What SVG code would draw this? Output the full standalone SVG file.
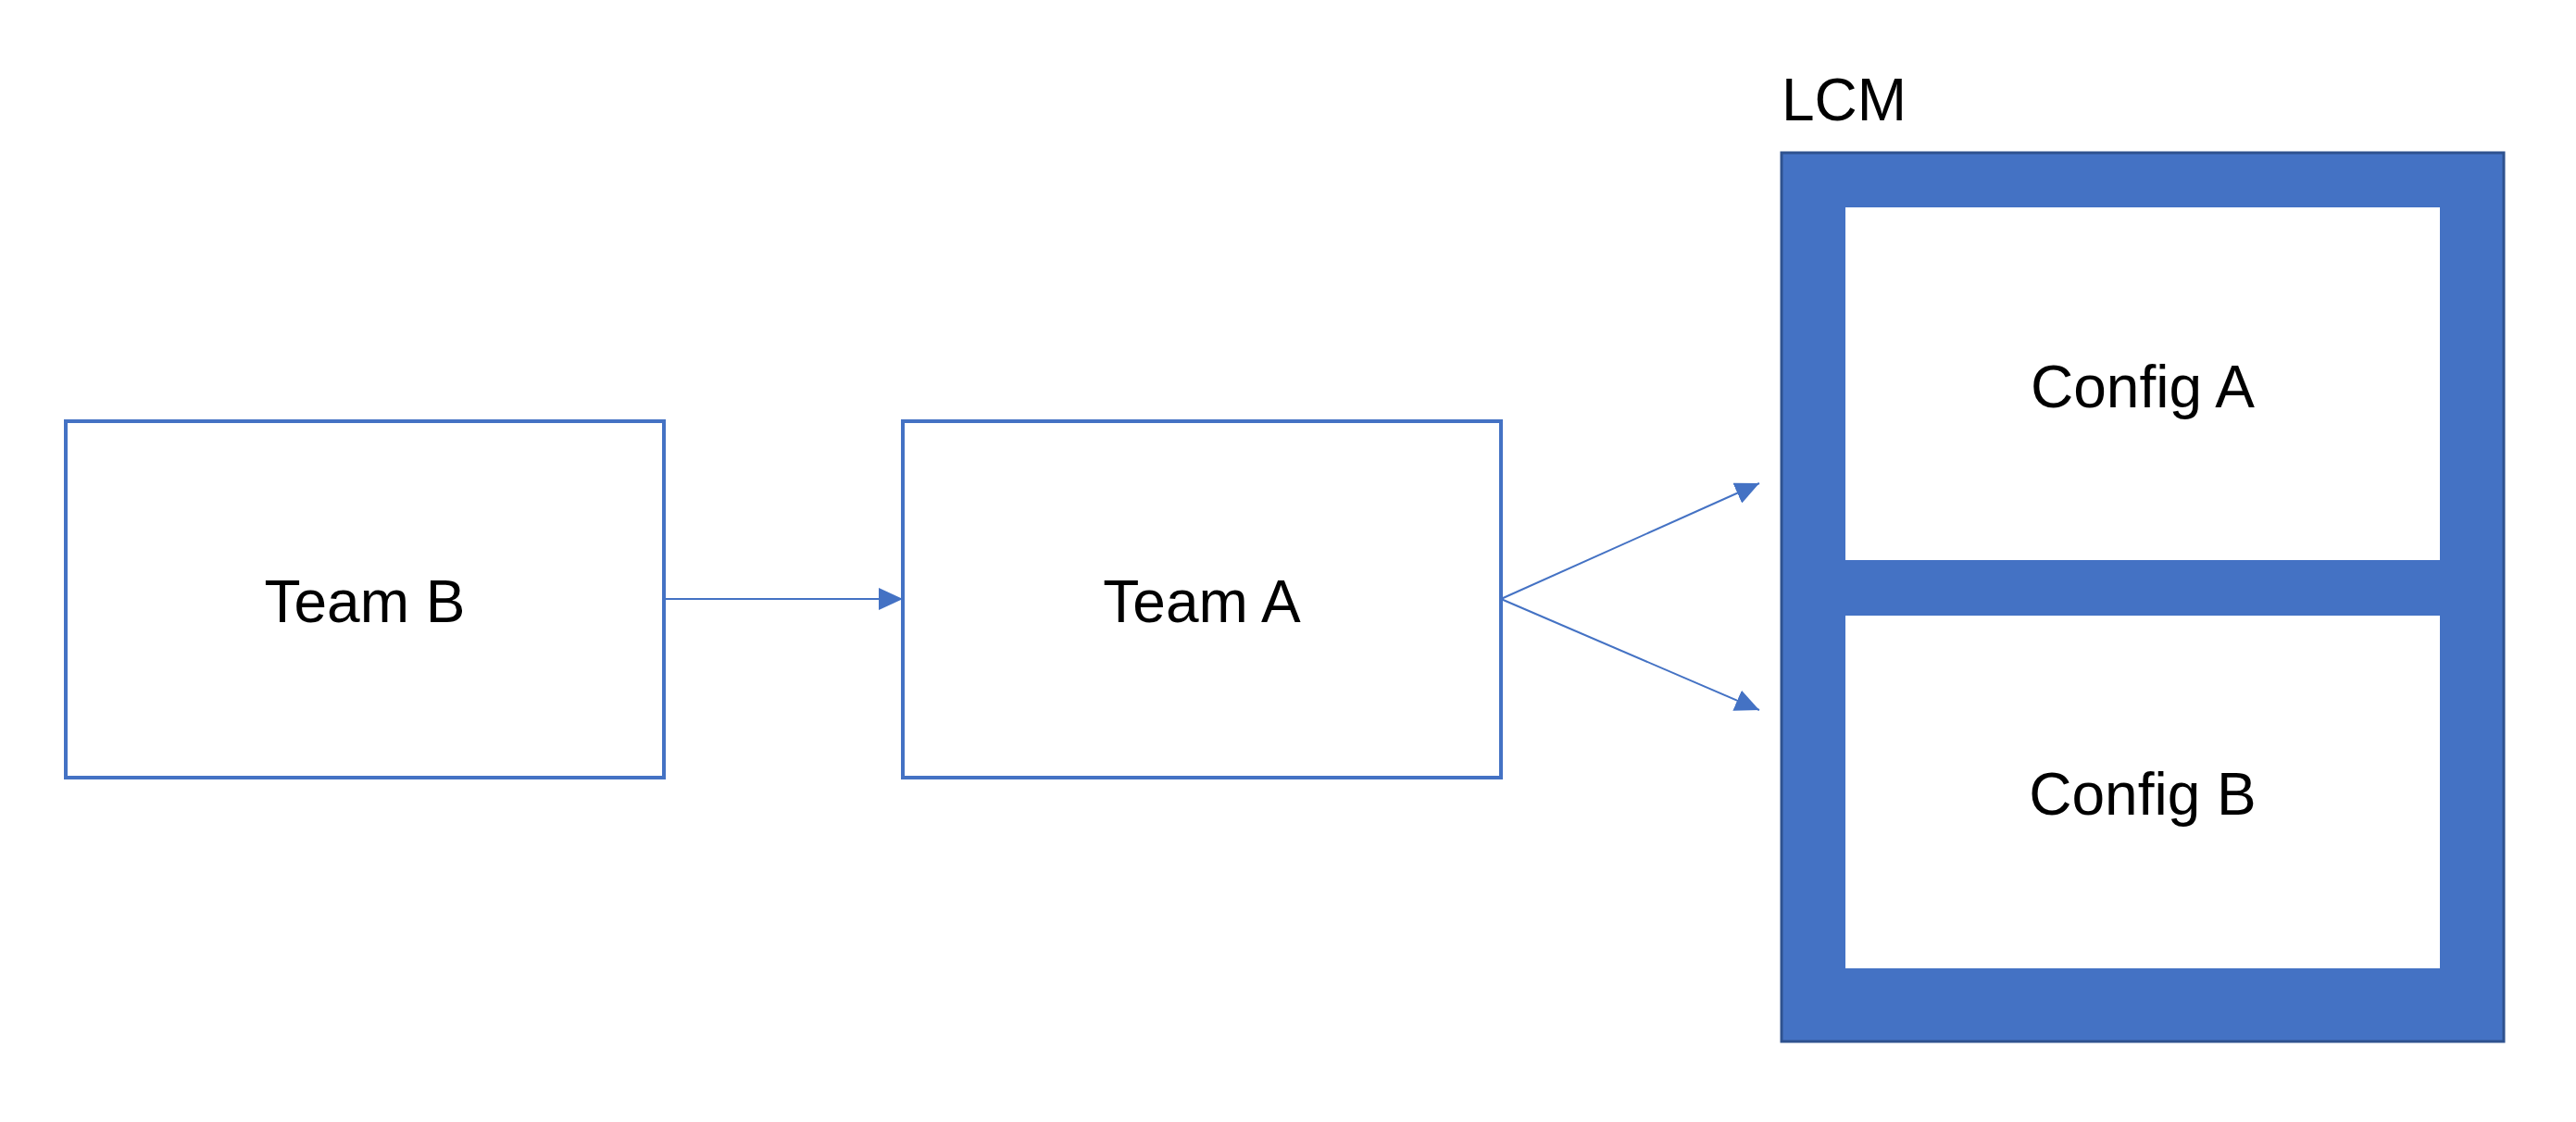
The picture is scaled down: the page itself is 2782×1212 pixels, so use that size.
<svg xmlns="http://www.w3.org/2000/svg" width="2782" height="1212" viewBox="0 0 2782 1212">
<style>
.box{fill:#FFFFFF;stroke:#4472C4;stroke-width:4}
.lbl{font-family:"Liberation Sans",Arial,sans-serif;font-size:64px;fill:#000000;text-anchor:middle}
.conn{fill:none;stroke:#4472C4;stroke-width:2}
</style>
<defs>
<marker id="arr" markerUnits="userSpaceOnUse" markerWidth="26" markerHeight="24" refX="26" refY="12" orient="auto">
<path d="M0,0 L26,12 L0,24 Z" fill="#4472C4"/>
</marker>
</defs>
<rect width="2782" height="1212" fill="#FFFFFF"/>
<g id="team-b">
<rect class="box" x="71" y="455" width="646" height="385"/>
<text class="lbl" x="394" y="672">Team B</text>
</g>
<g id="team-a">
<rect class="box" x="975" y="455" width="646" height="385"/>
<text class="lbl" x="1298" y="672">Team A</text>
</g>
<g id="lcm">
<rect x="1924" y="165" width="780" height="960" fill="#4472C4" stroke="#2F528F" stroke-width="3"/>
<text class="lbl" x="1924" y="130" style="text-anchor:start">LCM</text>
</g>
<g id="config-a">
<rect x="1993" y="224" width="642" height="381" fill="#FFFFFF"/>
<text class="lbl" x="2314" y="440">Config A</text>
</g>
<g id="config-b">
<rect x="1993" y="665" width="642" height="381" fill="#FFFFFF"/>
<text class="lbl" x="2314" y="880">Config B</text>
</g>
<g id="connectors">
<line class="conn" x1="717" y1="647" x2="975" y2="647" marker-end="url(#arr)"/>
<line class="conn" x1="1621" y1="647" x2="1900" y2="522" marker-end="url(#arr)"/>
<line class="conn" x1="1621" y1="647" x2="1900" y2="767" marker-end="url(#arr)"/>
</g>
</svg>
